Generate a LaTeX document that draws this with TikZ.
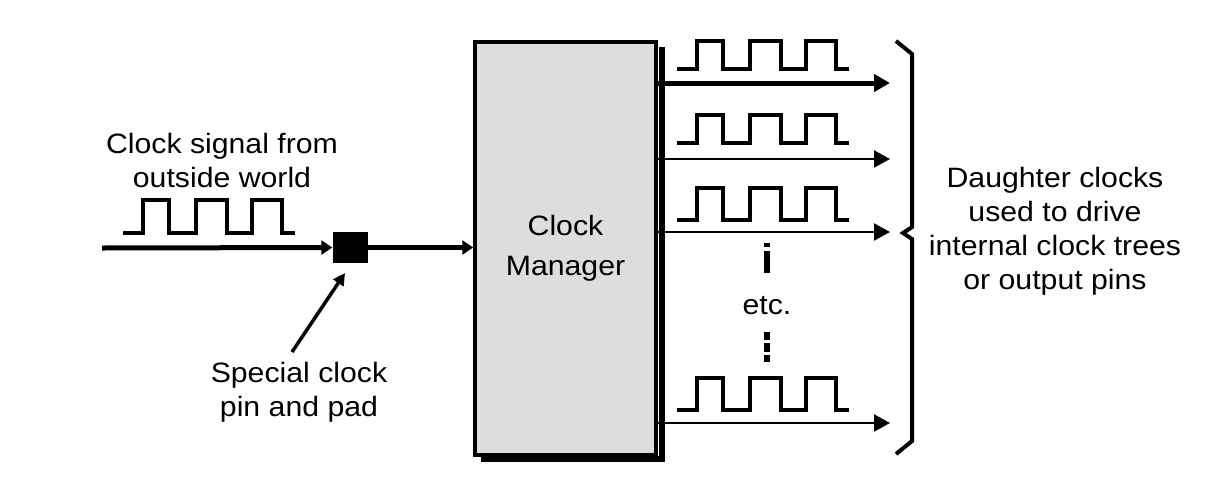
\documentclass[tikz,border=0pt]{standalone}
\usepackage{fontspec}
\setmainfont{Liberation Sans}[FakeStretch=1.08]
\usetikzlibrary{arrows.meta}
\definecolor{boxgray}{RGB}{221,221,221}
\newcommand\clockwave[3]{%
  \draw[wave] (#1,#2) -- ++(20,0) -- ++(0,-#3) -- ++(26,0) -- ++(0,#3) -- ++(27,0)
    -- ++(0,-#3) -- ++(31,0) -- ++(0,#3) -- ++(25,0) -- ++(0,-#3) -- ++(30,0)
    -- ++(0,#3) -- ++(13,0);}
\tikzset{
  wave/.style={line width=3.5pt, line join=miter},
  mainline/.style={line width=5pt},
  thinline/.style={line width=2.2pt},
  bigtip/.style={-{Triangle[length=16pt,width=17pt]}},
  smalltip/.style={-{Triangle[length=11pt,width=14pt]}},
  lbl/.style={font=\fontsize{28}{34}\selectfont, align=center, inner sep=0pt},
}
\begin{document}
\begin{tikzpicture}[x=1pt,y=-1pt]
\useasboundingbox (0,0) rectangle (1214,477);
% shadow of the box
\draw[line width=6pt] (481,459) -- (662,459) -- (662,47);
% clock manager box
\node[draw, line width=3.5pt, fill=boxgray, minimum width=181pt, minimum height=413pt,
      inner sep=0pt, lbl, font=\fontsize{28}{40}\selectfont] (cm) at (565.5,248.5) {Clock\\Manager};
% pad
\node[fill=black, minimum width=35pt, minimum height=31pt, inner sep=0pt] (pad) at (350,247.5) {};
% input
\coordinate (in) at (102,248);
\draw[mainline, smalltip] (in) -- (pad.west);
\draw[mainline, smalltip] (pad.east) -- (cm.west |- pad.east);
\clockwave{123}{233}{33}
\node[lbl] (inlbl) at (222,160) {Clock signal from\\outside world};
% pad label
\node[lbl] (padlbl) at (299,392) {Special clock\\pin and pad};
\coordinate (padarrow) at (292,352);
\draw[line width=3.5pt, -{Triangle[length=12pt,width=12pt]}] (padarrow) -- (345,273);
% outputs
\coordinate (o1) at (890,83);
\coordinate (o2) at (890,159);
\coordinate (o3) at (890,232);
\coordinate (o4) at (890,423);
\draw[mainline, bigtip] (cm.east |- o1) -- (o1);
\draw[thinline, bigtip] (cm.east |- o2) -- (o2);
\draw[thinline, bigtip] (cm.east |- o3) -- (o3);
\draw[thinline, bigtip] (cm.east |- o4) -- (o4);
\clockwave{677}{69}{28}
\clockwave{677}{143}{28}
\clockwave{677}{220}{32}
\clockwave{677}{410}{32}
% etc
\draw[line width=6pt] (767,243) -- (767,247) (767,251) -- (767,273);
\draw[line width=6pt] (767,332) -- (767,340) (767,343) -- (767,352) (767,355) -- (767,362);
\node[lbl] (etc) at (767,306) {etc.};
% brace
\draw[line width=4pt, line join=miter] (896,41) -- (912,54) -- (912,227) -- (903,233)
   -- (912,239) -- (912,441) -- (896,454);
\node[lbl] (dlbl) at (1055,231) {Daughter clocks\\used to drive\\internal clock trees\\or output pins};
\end{tikzpicture}
\end{document}
